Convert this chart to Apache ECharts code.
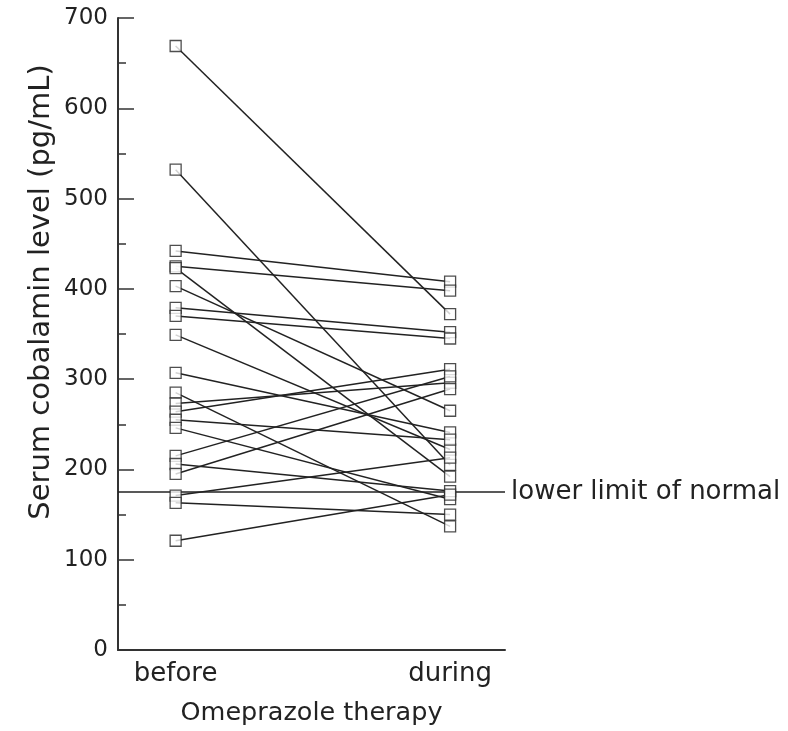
<!DOCTYPE html>
<html>
<head>
<meta charset="utf-8">
<script src="https://cdn.jsdelivr.net/npm/echarts@6/dist/echarts.min.js"></script>
<style>
  html, body { margin: 0; padding: 0; background: #fff; }
  #chart { width: 788px; height: 731px; }
</style>
</head>
<body>
<div id="chart"></div>
<script>
// Serum cobalamin (pg/mL) per patient, before and during omeprazole therapy
const phases = ['before', 'during'];
const before = [669, 532, 442, 425, 423, 403, 379, 370, 349, 307, 285, 273, 264, 255, 246, 215, 206, 195, 171, 163, 121];
const during = [372, 205, 408, 398, 192, 265, 352, 345, 222, 241, 137, 296, 311, 233, 167, 303, 176, 289, 213, 150, 172];
const lowerLimit = 175;
const yTicks = [0, 100, 200, 300, 400, 500, 600, 700];

const FONT = 'DejaVu Sans';
const INK = '#222';

const chart = echarts.init(document.getElementById('chart'), null, { renderer: 'canvas' });

// one line series per patient, joining the two phases
const pairSeries = before.map((b, i) => ({
  type: 'line',
  data: [[0, b], [1, during[i]]],
  showSymbol: false,
  silent: true,
  lineStyle: { color: INK, width: 1.5 },
  z: 2
}));

const points = [];
before.forEach(v => points.push([0, v]));
during.forEach(v => points.push([1, v]));

chart.setOption({
  animation: false,
  backgroundColor: '#fff',
  grid: { left: 118, top: 18, width: 387, height: 641, containLabel: false },
  xAxis: {
    type: 'value',
    min: -0.21,
    max: 1.2,
    name: 'Omeprazole therapy',
    nameLocation: 'middle',
    nameGap: 50,
    nameTextStyle: { fontFamily: FONT, fontSize: 25.5, color: INK },
    axisLine: { show: true, onZero: false, lineStyle: { color: '#333', width: 2 } },
    axisTick: { show: false },
    splitLine: { show: false },
    axisLabel: {
      customValues: [0, 1],
      formatter: v => phases[Math.round(v)],
      margin: 11,
      fontFamily: FONT, fontSize: 26, color: INK
    }
  },
  yAxis: {
    type: 'value',
    min: 0,
    max: 700,
    interval: 100,
    name: 'Serum cobalamin level (pg/mL)',
    nameLocation: 'middle',
    nameRotate: 90,
    nameGap: 62,
    nameTextStyle: { fontFamily: FONT, fontSize: 29, color: INK, padding: [0, 0, 0, 84] },
    axisLine: { show: true, onZero: false, lineStyle: { color: '#333', width: 2 } },
    axisTick: { show: true, inside: true, length: 16, lineStyle: { color: '#333', width: 1.5 } },
    minorTick: { show: true, splitNumber: 2, length: 8, lineStyle: { color: '#333', width: 1.5 } },
    splitLine: { show: false },
    axisLabel: {
      customValues: yTicks,
      margin: 10,
      fontFamily: FONT, fontSize: 23, color: INK
    }
  },
  series: [
    ...pairSeries,
    {
      type: 'line',
      data: [],
      silent: true,
      markLine: {
        silent: true,
        symbol: ['none', 'none'],
        lineStyle: { color: INK, width: 1.5, type: 'solid' },
        label: {
          show: true,
          position: 'end',
          distance: 6,
          formatter: 'lower limit of normal',
          fontFamily: FONT, fontSize: 26, color: INK
        },
        data: [{ yAxis: lowerLimit }]
      },
      z: 1
    },
    {
      type: 'scatter',
      data: points,
      symbol: 'rect',
      symbolSize: 11,
      silent: true,
      itemStyle: { color: '#fff', borderColor: INK, borderWidth: 1.3 },
      z: 5
    }
  ]
});
</script>
</body>
</html>
